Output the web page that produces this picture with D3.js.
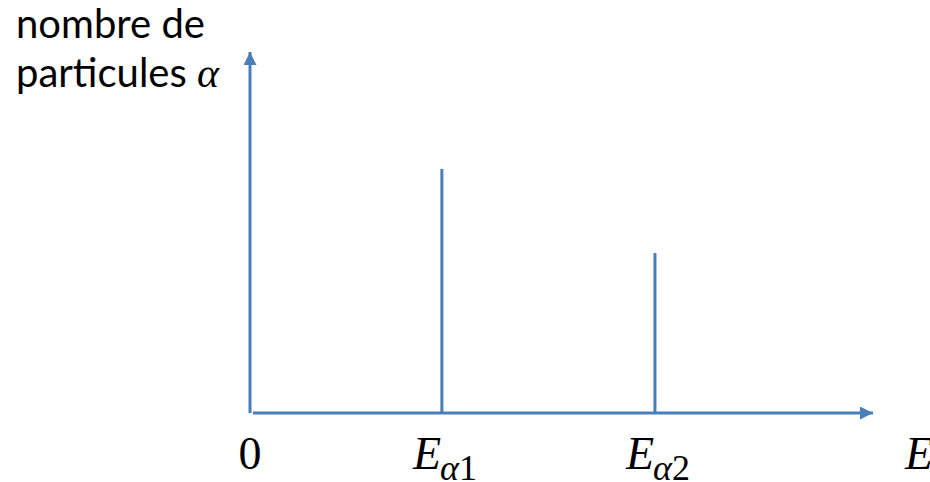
<!DOCTYPE html>
<html><head><meta charset="utf-8">
<script src="https://cdn.jsdelivr.net/npm/d3@7"></script>
<style>body{margin:0;background:#fff}svg{display:block}</style>
</head><body>
<script>
// Data
const categories = ["Eα1", "Eα2"];
const energies = [30.8, 65.0];      // position on energy axis (arbitrary units)
const counts = [67.6, 44.3];        // number of alpha particles (arbitrary units)
const subscripts = ["α1", "α2"];
const yLabelLines = ["nombre de", "particules "];
const xLabel = "E";
const originLabel = "0";

const W = 930, H = 482;
const blue = "#4a7ebb";
const svg = d3.select("body").append("svg").attr("width", W).attr("height", H);

const x = d3.scaleLinear().domain([0, 100]).range([250, 873]);
const y = d3.scaleLinear().domain([0, 100]).range([413, 52]);

const defs = svg.append("defs");
defs.append("marker").attr("id", "arr").attr("viewBox", "0 0 10 10")
  .attr("refX", 10).attr("refY", 5).attr("markerWidth", 16).attr("markerHeight", 13)
  .attr("markerUnits", "userSpaceOnUse").attr("orient", "auto")
  .append("path").attr("d", "M0,0L10,5L0,10Z").attr("fill", blue);

// y axis
svg.append("line").attr("x1", x(0)).attr("x2", x(0)).attr("y1", y(0)).attr("y2", y(100))
  .attr("stroke", blue).attr("stroke-width", 3).attr("marker-end", "url(#arr)");
// x axis
svg.append("line").attr("x1", x(0) + 3).attr("x2", x(100)).attr("y1", y(0)).attr("y2", y(0))
  .attr("stroke", blue).attr("stroke-width", 3).attr("marker-end", "url(#arr)");

// bars (lines)
svg.selectAll(".bar").data(categories).enter().append("line").attr("class", "bar")
  .attr("x1", (d, i) => x(energies[i])).attr("x2", (d, i) => x(energies[i]))
  .attr("y1", y(0)).attr("y2", (d, i) => y(counts[i]))
  .attr("stroke", blue).attr("stroke-width", 3);

const serif = "'Liberation Serif', 'Times New Roman', serif";
// origin label
svg.append("text").attr("x", x(0)).attr("y", 469).attr("text-anchor", "middle")
  .attr("font-family", serif).attr("font-size", 46).attr("fill", "#000").text(originLabel);

// tick labels
categories.forEach((c, i) => {
  const t = svg.append("text").attr("x", x(energies[i]) + 3).attr("y", 469)
    .attr("text-anchor", "middle")
    .attr("font-family", serif).attr("font-size", 46).attr("fill", "#000");
  t.append("tspan").attr("font-style", "italic").text("E");
  t.append("tspan").attr("dy", 11).attr("dx", -1).attr("font-size", 36).attr("font-style", "italic").text(subscripts[i][0]);
  t.append("tspan").attr("font-size", 36).text(subscripts[i].slice(1));
});

// x axis label
svg.append("text").attr("x", 905).attr("y", 469).attr("font-family", serif)
  .attr("font-size", 46).attr("font-style", "italic").attr("fill", "#000").text(xLabel);

// y axis label
const sans = "Lato, 'Open Sans', sans-serif";
svg.append("text").attr("x", 16).attr("y", 38).attr("font-family", sans)
  .attr("font-size", 40).attr("fill", "#000").text(yLabelLines[0]);
const l2 = svg.append("text").attr("x", 16).attr("y", 87).attr("font-family", sans)
  .attr("font-size", 40).attr("fill", "#000");
l2.append("tspan").text(yLabelLines[1]);
l2.append("tspan").attr("font-family", serif).attr("font-style", "italic").attr("font-size", 42).text("α");
</script>
</body></html>
